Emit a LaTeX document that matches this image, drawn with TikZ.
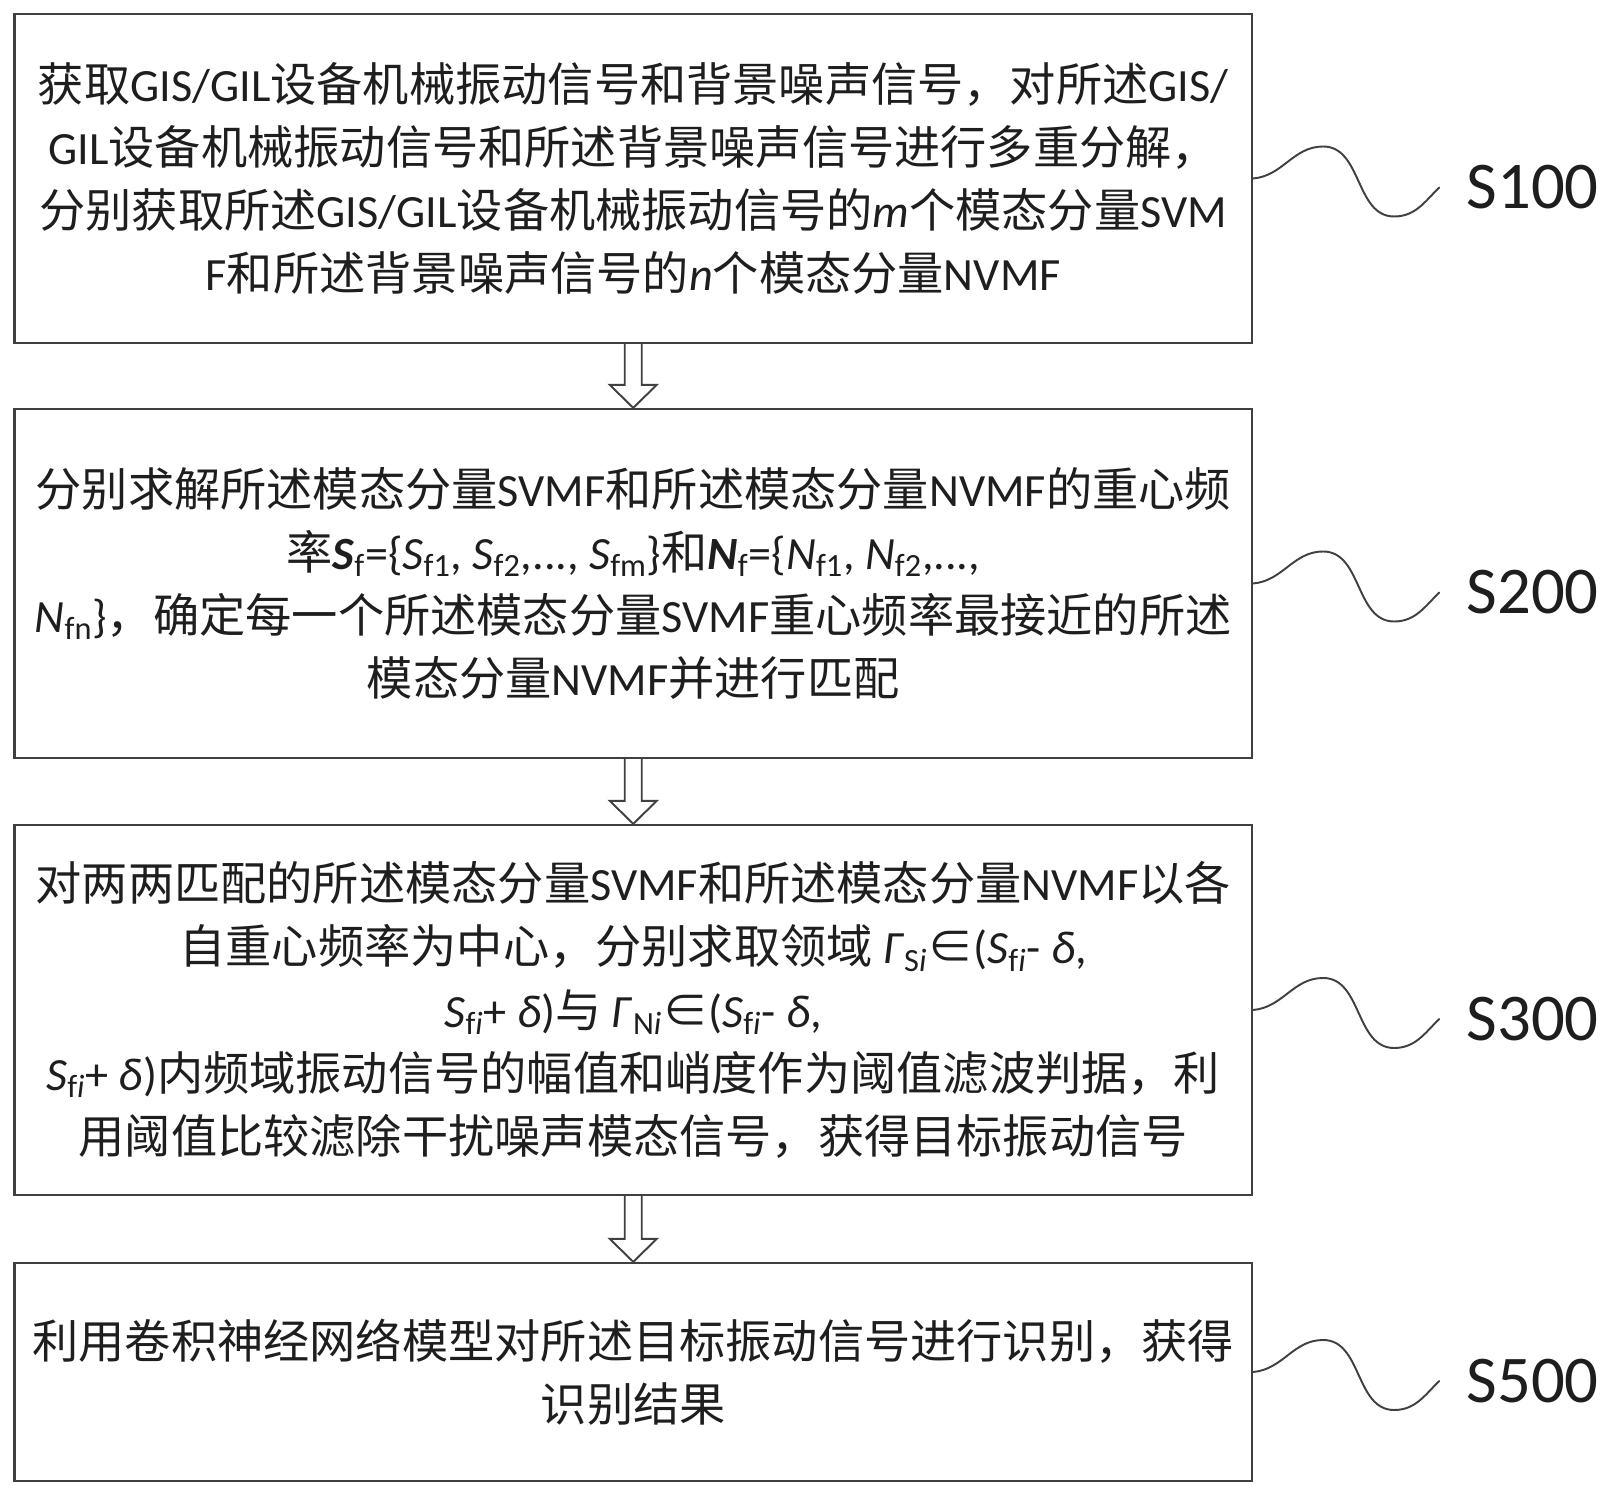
\documentclass[tikz,border=0pt]{standalone}
\usepackage{fontspec}
\setmainfont{Noto Sans CJK SC}
\newfontfamily\latfont{Carlito}
\newcommand{\lat}[1]{{\latfont #1}}
\usetikzlibrary{calc}
\definecolor{boxgray}{RGB}{64,64,64}
\definecolor{textgray}{RGB}{30,30,30}

\begin{document}
\begin{tikzpicture}[x=1cm,y=1cm]
\tikzset{
  stepbox/.style={rectangle,draw=boxgray,line width=1.3pt,minimum width=24.75cm,inner sep=0pt,align=center,text=textgray,font=\fontsize{26.3}{36}\selectfont},
  steplabel/.style={anchor=west,inner sep=0pt,text=textgray,font=\latfont\fontsize{38}{44}\selectfont},
  squiggle/.style={draw=boxgray,line width=1.1pt,line cap=round},
  hollowarrow/.style={draw=boxgray,line width=1.1pt,fill=white,line join=miter}
}
\useasboundingbox (0,0) rectangle (32.26,29.92);
\node[stepbox,minimum height=6.58cm] (s100) at (12.665,26.35) {获取\lat{GIS/GIL}设备机械振动信号和背景噪声信号，对所述\lat{GIS/}\\
\lat{GIL}设备机械振动信号和所述背景噪声信号进行多重分解，\\
分别获取所述\lat{GIS/GIL}设备机械振动信号的\lat{\textit{m}}个模态分量\lat{SVM}\\
\lat{F}和所述背景噪声信号的\lat{\textit{n}}个模态分量\lat{NVMF}};
\node[stepbox,minimum height=6.98cm] (s200) at (12.665,18.25) {分别求解所述模态分量\lat{SVMF}和所述模态分量\lat{NVMF}的重心频\\
率\lat{\textbf{\textit{S}}\textsubscript{f}=\{\textit{S}\textsubscript{f1}, \textit{S}\textsubscript{f2},..., \textit{S}\textsubscript{fm}\}}和\lat{\textbf{\textit{N}}\textsubscript{f}=\{\textit{N}\textsubscript{f1}, \textit{N}\textsubscript{f2},...,}\\
\lat{\textit{N}\textsubscript{fn}\}}，确定每一个所述模态分量\lat{SVMF}重心频率最接近的所述\\
模态分量\lat{NVMF}并进行匹配};
\node[stepbox,minimum height=7.40cm] (s300) at (12.665,9.72) {对两两匹配的所述模态分量\lat{SVMF}和所述模态分量\lat{NVMF}以各\\
自重心频率为中心，分别求取领域 \lat{\textit{Γ}\textsubscript{S\textit{i}}}∈\lat{(\textit{S}\textsubscript{f\textit{i}}- \textit{δ},}\\
\lat{\textit{S}\textsubscript{f\textit{i}}+ \textit{δ})}与 \lat{\textit{Γ}\textsubscript{N\textit{i}}}∈\lat{(\textit{S}\textsubscript{f\textit{i}}- \textit{δ},}\\
\lat{\textit{S}\textsubscript{f\textit{i}}+ \textit{δ})}内频域振动信号的幅值和峭度作为阈值滤波判据，利\\
用阈值比较滤除干扰噪声模态信号，获得目标振动信号};
\node[stepbox,minimum height=4.36cm] (s500) at (12.665,2.48) {利用卷积神经网络模型对所述目标振动信号进行识别，获得\\
识别结果};
% hollow arrows between the steps
\draw[hollowarrow] ($(s100.south)+(-0.17,0)$) -- ($(s200.north)+(-0.17,0.46)$) -- ++(-0.30,0) -- (s200.north) -- ++(0.47,0.46) -- ++(-0.30,0) -- ($(s100.south)+(0.17,0)$);
\draw[hollowarrow] ($(s200.south)+(-0.17,0)$) -- ($(s300.north)+(-0.17,0.46)$) -- ++(-0.30,0) -- (s300.north) -- ++(0.47,0.46) -- ++(-0.30,0) -- ($(s200.south)+(0.17,0)$);
\draw[hollowarrow] ($(s300.south)+(-0.17,0)$) -- ($(s500.north)+(-0.17,0.46)$) -- ++(-0.30,0) -- (s500.north) -- ++(0.47,0.46) -- ++(-0.30,0) -- ($(s300.south)+(0.17,0)$);
% step labels
\node[steplabel] (l100) at ($(s100.east)+(4.26,-0.18)$) {S100};
\node[steplabel] (l200) at ($(s200.east)+(4.26,-0.18)$) {S200};
\node[steplabel] (l300) at ($(s300.east)+(4.26,-0.18)$) {S300};
\node[steplabel] (l500) at ($(s500.east)+(4.26,-0.18)$) {S500};
\draw[squiggle] (s100.east) to[out=5,in=180] ++(1.40,0.64) to[out=0,in=180] ++(1.42,-1.40) to[out=0,in=225] ([xshift=-0.54cm]l100.west);
\draw[squiggle] (s200.east) to[out=5,in=180] ++(1.40,0.64) to[out=0,in=180] ++(1.42,-1.40) to[out=0,in=225] ([xshift=-0.54cm]l200.west);
\draw[squiggle] (s300.east) to[out=5,in=180] ++(1.40,0.64) to[out=0,in=180] ++(1.42,-1.40) to[out=0,in=225] ([xshift=-0.54cm]l300.west);
\draw[squiggle] (s500.east) to[out=5,in=180] ++(1.40,0.64) to[out=0,in=180] ++(1.42,-1.40) to[out=0,in=225] ([xshift=-0.54cm]l500.west);
\end{tikzpicture}
\end{document}
